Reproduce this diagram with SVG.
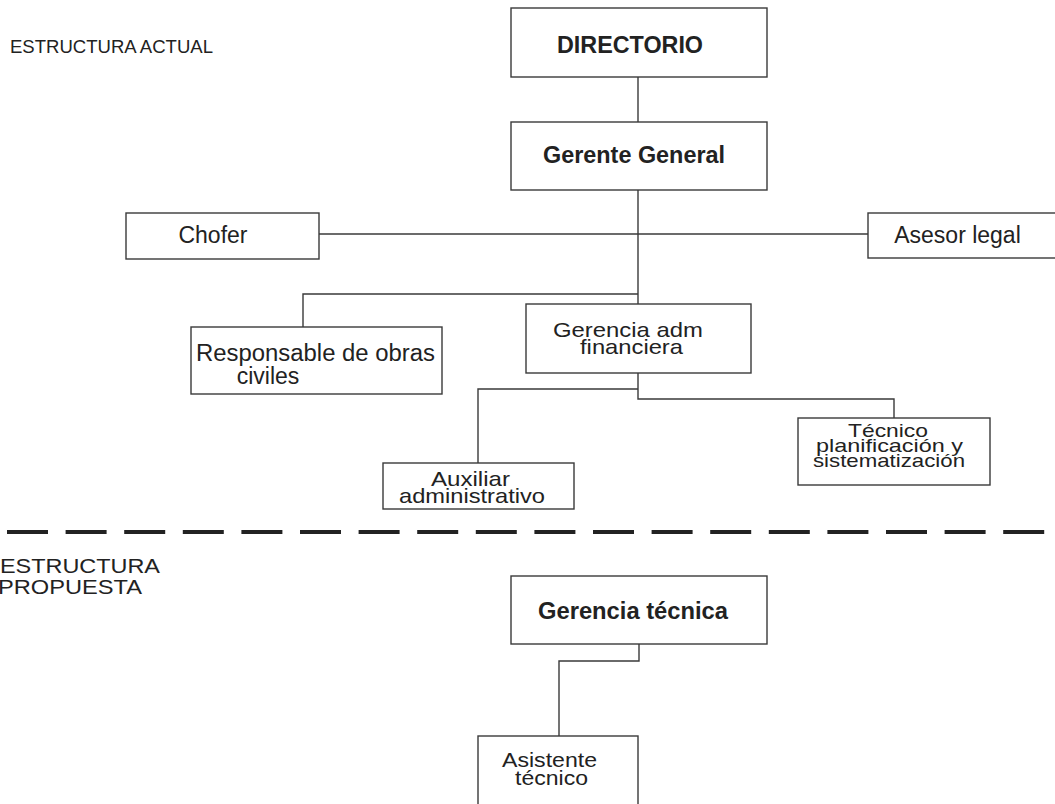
<svg xmlns="http://www.w3.org/2000/svg" width="1055" height="804" viewBox="0 0 1055 804">
  <style>
    .box { fill: #ffffff; stroke: #3a3a3a; stroke-width: 1.4; }
    .link { fill: none; stroke: #3a3a3a; stroke-width: 1.4; }
    .divider { fill: none; stroke: #222222; stroke-width: 4; stroke-dasharray: 41 17.6; }
    text { font-family: "Liberation Sans", Arial, sans-serif; fill: #222222; }
    .t { font-size: 23px; text-anchor: middle; }
    .t2 { font-size: 21px; text-anchor: middle; }
    .t3 { font-size: 19px; text-anchor: middle; }
    .b { font-size: 24px; font-weight: bold; text-anchor: middle; }
    .lbl { font-size: 18.5px; }
    .lbl2 { font-size: 21px; }
  </style>

  <rect width="1055" height="804" fill="#ffffff"/>

  <!-- section labels -->
  <text class="lbl" x="10" y="53" textLength="203" lengthAdjust="spacingAndGlyphs">ESTRUCTURA ACTUAL</text>
  <text class="lbl2" x="0" y="573" textLength="160" lengthAdjust="spacingAndGlyphs">ESTRUCTURA</text>
  <text class="lbl2" x="-2" y="594" textLength="144" lengthAdjust="spacingAndGlyphs">PROPUESTA</text>

  <!-- separator between current and proposed structure -->
  <path class="divider" d="M7 532 H1055"/>

  <!-- connectors -->
  <g id="connectors">
    <path class="link" d="M638 77 V122"/>
    <path class="link" d="M638 190 V304"/>
    <path class="link" d="M319 234 H868"/>
    <path class="link" d="M638 294 H303 V327"/>
    <path class="link" d="M638 373 V399 H894 V418"/>
    <path class="link" d="M638 389 H478 V463"/>
    <path class="link" d="M639 644 V661 H559 V736"/>
  </g>

  <g id="directorio">
    <rect class="box" x="511" y="8" width="256" height="69"/>
    <text class="b" x="630" y="53" textLength="146" lengthAdjust="spacingAndGlyphs">DIRECTORIO</text>
  </g>

  <g id="gerente-general">
    <rect class="box" x="511" y="122" width="256" height="68"/>
    <text class="b" x="634" y="163" textLength="182" lengthAdjust="spacingAndGlyphs">Gerente General</text>
  </g>

  <g id="chofer">
    <rect class="box" x="126" y="213" width="193" height="46"/>
    <text class="t" x="213" y="243">Chofer</text>
  </g>

  <g id="asesor-legal">
    <rect class="box" x="868" y="213" width="190" height="45"/>
    <text class="t" x="957.5" y="243">Asesor legal</text>
  </g>

  <g id="responsable-obras">
    <rect class="box" x="191" y="327" width="251" height="67"/>
    <text class="t" x="315.5" y="361" textLength="239" lengthAdjust="spacingAndGlyphs">Responsable de obras</text>
    <text class="t" x="268" y="384">civiles</text>
  </g>

  <g id="gerencia-adm">
    <rect class="box" x="526" y="304" width="225" height="69"/>
    <text class="t2" x="628" y="337" textLength="150" lengthAdjust="spacingAndGlyphs">Gerencia adm</text>
    <text class="t2" x="631.5" y="354" textLength="103" lengthAdjust="spacingAndGlyphs">financiera</text>
  </g>

  <g id="auxiliar">
    <rect class="box" x="383" y="463" width="191" height="46"/>
    <text class="t2" x="470.5" y="486" textLength="79" lengthAdjust="spacingAndGlyphs">Auxiliar</text>
    <text class="t2" x="472" y="503" textLength="146" lengthAdjust="spacingAndGlyphs">administrativo</text>
  </g>

  <g id="tecnico-planificacion">
    <rect class="box" x="798" y="418" width="192" height="67"/>
    <text class="t3" x="888" y="437" textLength="80" lengthAdjust="spacingAndGlyphs">Técnico</text>
    <text class="t3" x="889.5" y="452" textLength="147" lengthAdjust="spacingAndGlyphs">planificación y</text>
    <text class="t3" x="889" y="467" textLength="152" lengthAdjust="spacingAndGlyphs">sistematización</text>
  </g>

  <g id="gerencia-tecnica">
    <rect class="box" x="511" y="576" width="256" height="68"/>
    <text class="b" x="633" y="619" textLength="190" lengthAdjust="spacingAndGlyphs">Gerencia técnica</text>
  </g>

  <g id="asistente-tecnico">
    <rect class="box" x="478" y="736" width="160" height="80"/>
    <text class="t2" x="549.5" y="767" textLength="95" lengthAdjust="spacingAndGlyphs">Asistente</text>
    <text class="t2" x="551.5" y="785" textLength="73" lengthAdjust="spacingAndGlyphs">técnico</text>
  </g>
</svg>
